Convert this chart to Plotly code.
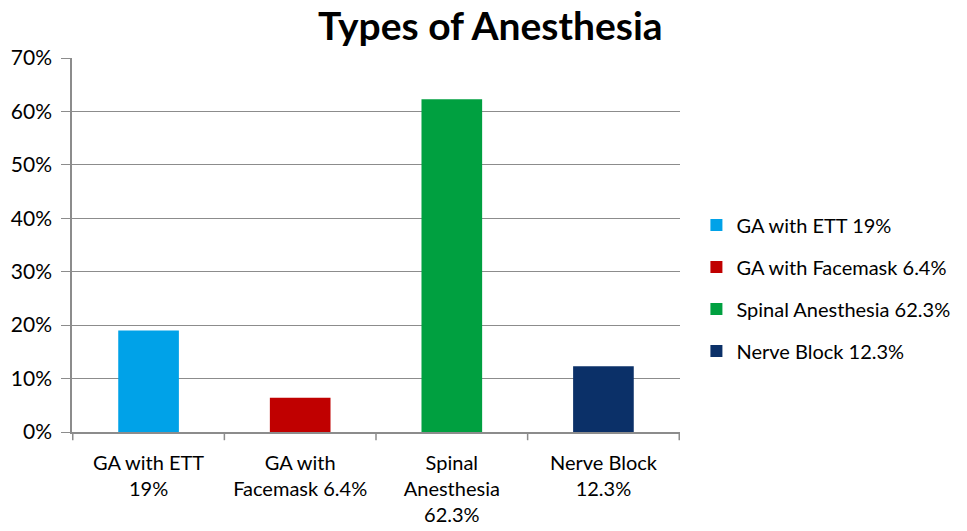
import plotly.graph_objects as go

categories = ["GA with ETT<br>19%", "GA with<br>Facemask 6.4%", "Spinal<br>Anesthesia<br>62.3%", "Nerve Block<br>12.3%"]
legend_names = ["GA with ETT 19%", "GA with Facemask 6.4%", "Spinal Anesthesia 62.3%", "Nerve Block 12.3%"]
values = [0.19, 0.064, 0.623, 0.123]
colors = ["#00A2E8", "#C00000", "#00A040", "#0B3068"]
y_ticks = [0, 0.1, 0.2, 0.3, 0.4, 0.5, 0.6, 0.7]

FONT = "Lato"
fig = go.Figure()
for cat, name, val, col in zip(categories, legend_names, values, colors):
    fig.add_trace(go.Bar(x=[cat], y=[val], name=name, marker_color=col,
                         marker_line_width=0, legendgroup=name, width=0.4))

fig.update_layout(
    width=967, height=531,
    margin=dict(l=72, r=287, t=58, b=99),
    paper_bgcolor="white", plot_bgcolor="white",
    barmode="overlay",
    title=dict(text="<b>Types of Anesthesia</b>", x=0.507, xanchor="center", y=0.95, yanchor="middle",
               font=dict(family=FONT, size=39, color="black")),
    font=dict(family=FONT, size=20, color="black"),
    legend=dict(x=1.027, xanchor="left", y=0.385, yanchor="middle",
                font=dict(family=FONT, size=20, color="black"),
                tracegroupgap=13, traceorder="grouped", itemwidth=30),
    showlegend=True,
)
fig.update_xaxes(categoryorder="array", categoryarray=categories, automargin=False,
                 showline=True, linecolor="#8c8c8c", linewidth=1.5,
                 ticks="", ticklabelstandoff=12, tickfont=dict(size=20, family=FONT))
fig.update_yaxes(range=[0, 0.7], tickvals=y_ticks, tickformat=".0%", automargin=False,
                 showgrid=True, gridcolor="#8c8c8c", gridwidth=1.2,
                 showline=True, linecolor="#8c8c8c", linewidth=1.5,
                 ticks="outside", ticklen=9, tickcolor="#8c8c8c", ticklabelstandoff=5,
                 tickfont=dict(size=21, family=FONT), zeroline=False)

# category boundary ticks on x axis
for i in range(len(categories) + 1):
    fig.add_shape(type="line", xref="x", yref="paper", x0=i - 0.5, x1=i - 0.5, y0=0, y1=-0.022,
                  line=dict(color="#8c8c8c", width=1.5))

fig.write_html("out.html")
